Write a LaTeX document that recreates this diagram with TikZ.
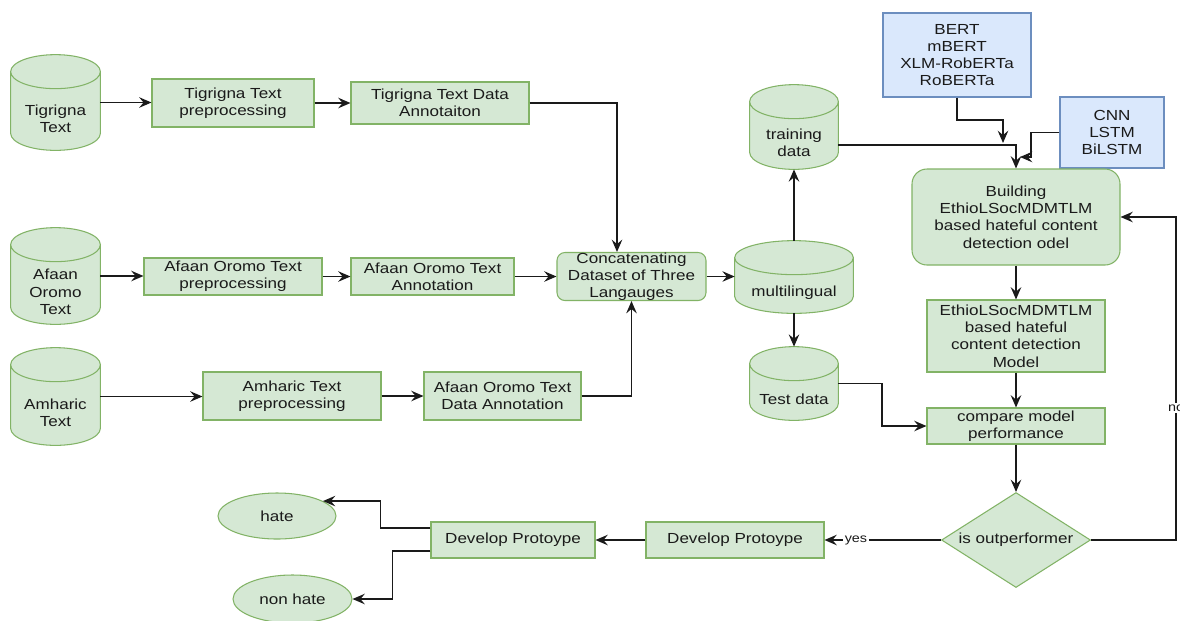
\documentclass[tikz,border=0pt]{standalone}
\usepackage{fontspec}
\setmainfont{Liberation Sans}[FakeStretch=1.17]
\usetikzlibrary{shapes.geometric,arrows.meta,calc,backgrounds}

\definecolor{gfill}{HTML}{D5E8D4}
\definecolor{gline}{HTML}{82B366}
\definecolor{bfill}{HTML}{DAE8FC}
\definecolor{bline}{HTML}{6C8EBF}
\definecolor{txt}{HTML}{1A1A1A}
\definecolor{lin}{HTML}{1A1A1A}

% half height of the elliptic caps of the database drums
\newcommand\cylry{0.34cm}
% draws a vertical drum filling the box of node #1
\newcommand\drumshape[1]{%
  \filldraw[draw=gline, fill=gfill, line width=0.6pt]
    let \p1=(#1.north west), \p2=(#1.south east), \n1={0.5*(\x2-\x1)} in
    (\x1,\y1-\cylry) -- (\x1,\y2+\cylry)
    arc[start angle=180, end angle=360, x radius={\n1*1pt}, y radius=\cylry]
    -- (\x2,\y1-\cylry)
    arc[start angle=0, end angle=180, x radius={\n1*1pt}, y radius=\cylry] -- cycle
    (\x1,\y1-\cylry)
    arc[start angle=180, end angle=360, x radius={\n1*1pt}, y radius=\cylry];
}

\begin{document}
\begin{tikzpicture}[x=0.02cm, y=-0.02cm,
  font=\fontsize{8.3}{9.8}\selectfont, text=txt,
  wh/.style 2 args={minimum width={#1*0.02cm}, minimum height={#2*0.02cm}},
  box/.style={draw=gline, fill=gfill, line width=0.6pt, inner sep=0pt, align=center},
  bluebox/.style={box, draw=bline, fill=bfill},
  drum/.style={inner sep=0pt},
  drumtext/.style={align=center, yshift=-0.32cm},
  oval/.style={box, ellipse},
  decision/.style={box, diamond, aspect=1.57},
  arr/.style={line width=0.8pt, draw=lin, -{Stealth[length=7pt, width=6pt, inset=2.5pt]}},
  edgelabel/.style={fill=white, inner sep=1pt, font=\fontsize{7}{8}\selectfont}
]
\useasboundingbox (0,0) rectangle (1180,620);

% ---- language sources ----
\node[drum, wh={89}{95}, label={[drumtext]center:{Tigrigna\\Text}}] (tig) at (55.5,102.5) {};
\node[drum, wh={89}{96}, label={[drumtext]center:{Afaan\\Oromo\\Text}}] (afc) at (55.5,276) {};
\node[drum, wh={89}{97}, label={[drumtext]center:{Amharic\\Text}}] (amc) at (55.5,396.5) {};

\node[box, wh={162}{48}] (tp) at (233,103) {Tigrigna Text\\preprocessing};
\node[box, wh={178}{42}] (ta) at (440,103) {Tigrigna Text Data\\Annotaiton};
\node[box, wh={178}{37}] (ap) at (233,276.5) {Afaan Oromo Text\\preprocessing};
\node[box, wh={163}{37}] (aa) at (432.5,276.5) {Afaan Oromo Text\\Annotation};
\node[box, wh={178}{48}] (mp) at (292,396) {Amharic Text\\preprocessing};
\node[box, wh={157}{48}] (ma) at (502.5,396) {Afaan Oromo Text\\Data Annotation};

\node[box, rounded corners=0.16cm, wh={149}{47}] (cc) at (631.5,276.5) {Concatenating\\Dataset of Three\\Langauges};

% ---- data split ----
\node[drum, wh={118}{72}, label={[drumtext]center:{multilingual}}] (ml) at (794,277) {};
\node[drum, wh={88}{84}, label={[drumtext]center:{training\\data}}] (tr) at (794,127) {};
\node[drum, wh={88}{73}, label={[drumtext]center:{Test data}}] (te) at (794,383.5) {};

% ---- modelling ----
\node[bluebox, wh={148}{84}] (bert) at (957,55) {BERT\\mBERT\\XLM-RobERTa\\RoBERTa};
\node[bluebox, wh={104}{71}] (cnn) at (1112,132.5) {CNN\\LSTM\\BiLSTM};
\node[box, rounded corners=0.3cm, wh={208}{96}] (bld) at (1016,217) {Building\\EthioLSocMDMTLM\\based hateful content\\detection odel};
\node[box, wh={178}{72}] (mod) at (1016,336) {EthioLSocMDMTLM\\based hateful\\content detection\\Model};
\node[box, wh={178}{36}] (cmp) at (1016,426) {compare model\\performance};
\node[decision, wh={149}{95}] (dec) at (1016,540) {is outperformer};

% ---- prototype ----
\node[box, wh={178}{36}] (dp2) at (735,540) {Develop Protoype};
\node[box, wh={164}{36}] (dp1) at (513,540) {Develop Protoype};
\node[oval, wh={118}{46}] (hate) at (277,516) {hate};
\node[oval, wh={119}{48}] (nh) at (292.5,599) {non hate};

\begin{scope}[on background layer]
  \fill[white] (0,0) rectangle (1180,620);
  \drumshape{tig}
  \drumshape{afc}
  \drumshape{amc}
  \drumshape{ml}
  \drumshape{tr}
  \drumshape{te}
\end{scope}

% ---- connectors ----
\draw[arr] (tig.east) -- (tig.east -| tp.west);
\draw[arr] (tp.east) -- (ta.west);
\draw[arr] (ta.east) -| ([xshift=-0.29cm]cc.north);
\draw[arr] (afc.east) -- (afc.east -| ap.west);
\draw[arr] (ap.east) -- (aa.west);
\draw[arr] (aa.east) -- (aa.east -| cc.west);
\draw[arr] (amc.east) -- (amc.east -| mp.west);
\draw[arr] (mp.east) -- (ma.west);
\draw[arr] (ma.east) -| (cc.south);
\draw[arr] (cc.east) -- (cc.east -| ml.west);
\draw[arr] (ml.north) -- (tr.south);
\draw[arr] (ml.south) -- (te.north);

\draw[arr] ([yshift=-0.36cm]tr.east) -| (bld.north);
\coordinate (bertbend) at (1003,120);
\coordinate (bertend) at (1003,143);
\draw[arr] (bert.south) |- (bertbend) -- (bertend);
\coordinate (cnnbend) at (1031,157);
\coordinate (cnnend) at (1020,157);
\draw[arr] (cnn.west) -| (cnnbend) -- (cnnend);

\draw[arr] (bld.south) -- (mod.north);
\draw[arr] (mod.south) -- (cmp.north);
\coordinate (testbend) at (882,384);
\draw[arr] (te.east) -| (testbend) |- (cmp.west);
\draw[arr] (cmp.south) -- (dec.north);

\coordinate (norail) at (1176,540);
\draw[arr] (dec.east) -- (norail) |- (bld.east);
\node[edgelabel] (nolab) at (1176,408) {no};

\draw[arr] (dec.west) -- node[edgelabel, pos=0.73] (yeslab) {yes} (dp2.east);
\draw[arr] (dp2.west) -- (dp1.east);
\draw[arr] ([yshift=0.24cm]dp1.west) -- ++(-50,0) |- (hate.18);
\draw[arr] ([yshift=-0.22cm]dp1.west) -- ++(-38,0) |- (nh.east);
\end{tikzpicture}
\end{document}
